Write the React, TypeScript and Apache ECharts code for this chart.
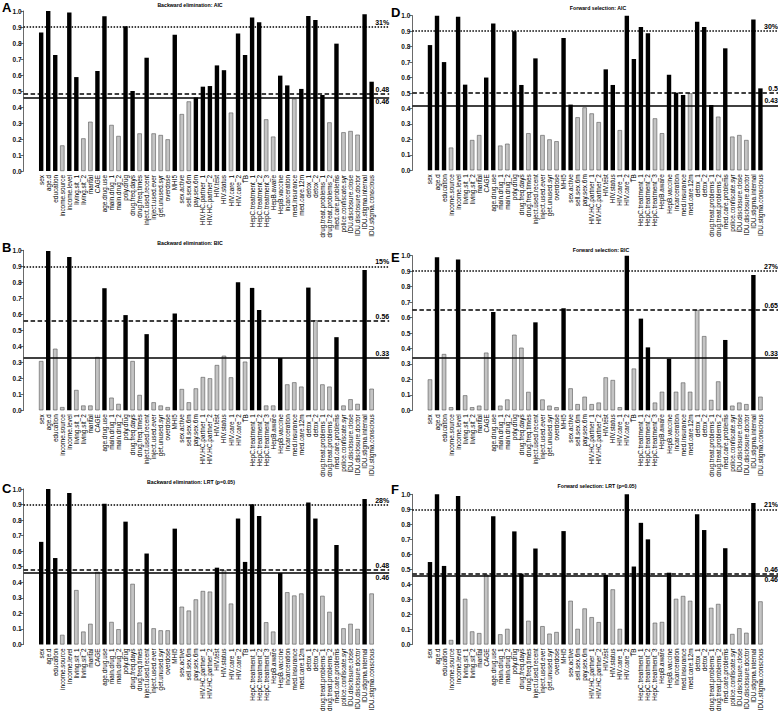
import React, { useEffect, useRef } from 'react';
import * as echarts from 'echarts';

const categories = [
  'sex', 'age.d', 'education', 'income.source', 'income.level', 'living.sit_1', 'living.sit_2', 'marital', 'CAGE',
  'age.drug.use', 'main.drug_1', 'main.drug_2', 'poly.drug', 'drug.freq.days', 'drug.freq.times', 'inject.used.recent',
  'inject.used.ever', 'get.unused.syr', 'overdose', 'MHI5', 'sex.active', 'sell.sex.6m', 'pay.sex.6m',
  'HIV.HC.partner_1', 'HIV.HC.partner_2', 'HIV.test', 'HIV.status', 'HIV.care_1', 'HIV.care_2', 'TB',
  'HepC.treatment_1', 'HepC.treatment_2', 'HepC.treatment_3', 'HepB.aware', 'HepB.vaccine', 'incarceration',
  'med.insurance', 'med.care.12m', 'detox_1', 'detox_2', 'drug.treat.problems_1', 'drug.treat.problems_2',
  'med.care.problems', 'police.confiscate.syr', 'IDU.disclosure.close', 'IDU.disclosure.doctor',
  'IDU.stigma.internal', 'IDU.stigma.conscious',
];

// Panel A: Backward elimination, AIC
const aValues = [0.865, 1.0, 0.725, 0.16, 0.99, 0.587, 0.204, 0.308, 0.625, 0.967, 0.288, 0.219, 0.904, 0.5, 0.235, 0.708,
  0.235, 0.225, 0.198, 0.852, 0.356, 0.435, 0.46, 0.527, 0.531, 0.66, 0.63, 0.365, 0.86, 0.725, 0.96, 0.93, 0.323, 0.215,
  0.596, 0.535, 0.452, 0.513, 0.969, 0.944, 0.475, 0.304, 0.796, 0.242, 0.25, 0.227, 0.98, 0.558];
const aSelected = [1, 1, 1, 0, 1, 1, 0, 0, 1, 1, 0, 0, 1, 1, 0, 1, 0, 0, 0, 1, 0, 0, 1, 1, 1, 1, 1, 0, 1, 1, 1, 1, 0, 0,
  1, 1, 0, 1, 1, 1, 1, 0, 1, 0, 0, 0, 1, 1];
const aThresholds = [0.9, 0.48, 0.46];
const aThresholdLabels = ['31%', '0.48', '0.46'];

// Panel B: Backward elimination, BIC
const bValues = [0.308, 0.995, 0.385, 0.02, 0.958, 0.127, 0.03, 0.03, 0.333, 0.763, 0.079, 0.04, 0.595, 0.308, 0.096, 0.476,
  0.05, 0.03, 0.02, 0.605, 0.133, 0.05, 0.137, 0.208, 0.2, 0.283, 0.341, 0.206, 0.8, 0.304, 0.765, 0.627, 0.03, 0.03,
  0.327, 0.162, 0.175, 0.148, 0.767, 0.563, 0.162, 0.148, 0.457, 0.03, 0.069, 0.04, 0.877, 0.135];
const bSelected = [0, 1, 0, 0, 1, 0, 0, 0, 0, 1, 0, 0, 1, 0, 0, 1, 0, 0, 0, 1, 0, 0, 0, 0, 0, 0, 0, 0, 1, 0, 1, 1, 0, 0,
  1, 0, 0, 0, 1, 0, 0, 0, 1, 0, 0, 0, 1, 0];
const bThresholds = [0.9, 0.565, 0.327];
const bThresholdLabels = ['15%', '0.56', '0.33'];

// Panel C: Backward elimination, LRT (p=0.05)
const cValues = [0.66, 1.0, 0.556, 0.062, 0.975, 0.35, 0.083, 0.133, 0.467, 0.905, 0.145, 0.098, 0.79, 0.39, 0.141, 0.585,
  0.104, 0.091, 0.091, 0.745, 0.243, 0.218, 0.29, 0.344, 0.34, 0.494, 0.477, 0.263, 0.81, 0.531, 0.902, 0.826, 0.143, 0.083,
  0.46, 0.336, 0.315, 0.328, 0.913, 0.81, 0.313, 0.21, 0.64, 0.104, 0.133, 0.1, 0.936, 0.328];
const cSelected = [1, 1, 1, 0, 1, 0, 0, 0, 0, 1, 0, 0, 1, 0, 0, 1, 0, 0, 0, 1, 0, 0, 0, 0, 0, 1, 0, 0, 1, 1, 1, 1, 0, 0,
  1, 0, 0, 0, 1, 1, 0, 0, 1, 0, 0, 0, 1, 0];
const cThresholds = [0.9, 0.478, 0.46];
const cThresholdLabels = ['28%', '0.48', '0.46'];

// Panel D: Forward selection, AIC
const dValues = [0.81, 1.0, 0.7, 0.147, 0.994, 0.554, 0.196, 0.228, 0.6, 0.95, 0.16, 0.172, 0.9, 0.552, 0.24, 0.724,
  0.228, 0.2, 0.188, 0.856, 0.425, 0.343, 0.407, 0.368, 0.312, 0.653, 0.552, 0.26, 1.0, 0.72, 0.927, 0.886, 0.336, 0.24,
  0.618, 0.502, 0.487, 0.498, 0.961, 0.927, 0.422, 0.347, 0.789, 0.218, 0.228, 0.196, 0.976, 0.53];
const dSelected = [1, 1, 1, 0, 1, 1, 0, 0, 1, 1, 0, 0, 1, 1, 0, 1, 0, 0, 0, 1, 1, 0, 0, 0, 0, 1, 1, 0, 1, 1, 1, 1, 0, 0,
  1, 1, 1, 0, 1, 1, 1, 0, 1, 0, 0, 0, 1, 1];
const dThresholds = [0.9, 0.5, 0.425];
const dThresholdLabels = ['30%', '0.5', '0.43'];

// Panel E: Forward selection, BIC
const eValues = [0.2, 0.99, 0.364, 0.02, 0.976, 0.097, 0.02, 0.03, 0.373, 0.636, 0.03, 0.07, 0.489, 0.405, 0.119, 0.569,
  0.07, 0.03, 0.02, 0.66, 0.142, 0.04, 0.088, 0.04, 0.05, 0.213, 0.196, 0.02, 1.0, 0.27, 0.593, 0.407, 0.05, 0.12,
  0.334, 0.12, 0.18, 0.12, 0.649, 0.48, 0.067, 0.187, 0.455, 0.03, 0.05, 0.04, 0.875, 0.088];
const eSelected = [0, 1, 0, 0, 1, 0, 0, 0, 0, 1, 0, 0, 0, 0, 0, 1, 0, 0, 0, 1, 0, 0, 0, 0, 0, 0, 0, 0, 1, 0, 1, 1, 0, 0,
  1, 0, 0, 0, 0, 0, 0, 0, 1, 0, 0, 0, 1, 0];
const eThresholds = [0.9, 0.65, 0.335];
const eThresholdLabels = ['27%', '0.65', '0.33'];

// Panel F: Forward selection, LRT (p=0.05)
const fValues = [0.549, 1.0, 0.523, 0.03, 0.989, 0.304, 0.087, 0.076, 0.466, 0.854, 0.068, 0.104, 0.753, 0.472, 0.158, 0.639,
  0.122, 0.072, 0.083, 0.755, 0.291, 0.104, 0.24, 0.182, 0.149, 0.464, 0.367, 0.104, 1.0, 0.519, 0.81, 0.7, 0.145, 0.15,
  0.478, 0.304, 0.323, 0.291, 0.867, 0.762, 0.244, 0.27, 0.641, 0.07, 0.108, 0.078, 0.942, 0.287];
const fSelected = [1, 1, 1, 0, 1, 0, 0, 0, 0, 1, 0, 0, 1, 1, 0, 1, 0, 0, 0, 1, 0, 0, 0, 0, 0, 1, 0, 0, 1, 1, 1, 1, 0, 0,
  1, 0, 0, 0, 1, 1, 0, 0, 1, 0, 0, 0, 1, 0];
const fThresholds = [0.9, 0.466, 0.457];
const fThresholdLabels = ['21%', '0.46', '0.46'];

const FONT = '"Liberation Sans", Arial, sans-serif';

const panels = [
  { letter: 'A', title: 'Backward elimination: AIC', values: aValues, selected: aSelected, thr: aThresholds, thrLabels: aThresholdLabels,
    labelSide: ['top', 'top', 'bottom'], left: 23.6, top: 11, height: 160, titleX: 190, titleY: 4.5, letterX: 2, letterY: 1 },
  { letter: 'B', title: 'Backward elimination: BIC', values: bValues, selected: bSelected, thr: bThresholds, thrLabels: bThresholdLabels,
    labelSide: ['top', 'top', 'top'], left: 23.6, top: 250.3, height: 160, titleX: 190, titleY: 242.5, letterX: 2, letterY: 241 },
  { letter: 'C', title: 'Backward elimination: LRT (p=0.05)', values: cValues, selected: cSelected, thr: cThresholds, thrLabels: cThresholdLabels,
    labelSide: ['top', 'top', 'bottom'], left: 23.6, top: 489, height: 160.3, titleX: 191, titleY: 481.5, letterX: 2, letterY: 482 },
  { letter: 'D', title: 'Forward selection: AIC', values: dValues, selected: dSelected, thr: dThresholds, thrLabels: dThresholdLabels,
    labelSide: ['top', 'top', 'top'], left: 412.4, top: 15.7, height: 154.6, titleX: 598, titleY: 8, letterX: 391, letterY: 6 },
  { letter: 'E', title: 'Forward selection: BIC', values: eValues, selected: eSelected, thr: eThresholds, thrLabels: eThresholdLabels,
    labelSide: ['top', 'top', 'top'], left: 412.4, top: 255.7, height: 154.6, titleX: 601, titleY: 250, letterX: 391, letterY: 251 },
  { letter: 'F', title: 'Forward selection: LRT (p=0.05)', values: fValues, selected: fSelected, thr: fThresholds, thrLabels: fThresholdLabels,
    labelSide: ['top', 'top', 'bottom'], left: 412.4, top: 494.3, height: 155.2, titleX: 597, titleY: 486, letterX: 391, letterY: 483 },
];

const GRID_W = 365.6;
const padCats = [' ', '  ', ...categories, '   ', '    '];
const lineTypes: any[] = [[1.5, 1.5], [4.5, 2.5], 'solid'];

export default function App() {
  const ref = useRef<HTMLDivElement>(null);
  useEffect(() => {
    if (!ref.current) return;
    const chart = echarts.init(ref.current, null, { renderer: 'svg' });
    const grid: any[] = [];
    const xAxis: any[] = [];
    const yAxis: any[] = [];
    const series: any[] = [];
    const graphic: any[] = [];
    panels.forEach((p, i) => {
      grid.push({ left: p.left, top: p.top, width: GRID_W, height: p.height, containLabel: false });
      xAxis.push({
        type: 'category', gridIndex: i, data: padCats,
        axisLine: { show: false }, axisTick: { show: false },
        axisLabel: { interval: 0, rotate: 90, fontSize: 6.4, color: '#000', margin: 4, fontFamily: FONT },
      });
      yAxis.push({
        type: 'value', gridIndex: i, min: 0, max: 1, interval: 0.1,
        splitLine: { show: false },
        axisLine: { show: true, lineStyle: { color: '#444', width: 0.8 } },
        axisTick: { show: true, length: 3, lineStyle: { color: '#444', width: 0.8 } },
        axisLabel: { fontSize: 6.5, fontWeight: 'bold', color: '#111', margin: 2, fontFamily: FONT,
          formatter: (v: number) => v.toFixed(1) },
      });
      const data: any[] = ['-', '-'];
      p.values.forEach((v, k) => {
        const sel = p.selected[k] === 1;
        data.push({ value: v, itemStyle: { color: sel ? '#000' : '#c4c4c4', borderColor: sel ? '#000' : '#555', borderWidth: sel ? 0 : 0.6 } });
      });
      data.push('-', '-');
      series.push({
        type: 'bar', xAxisIndex: i, yAxisIndex: i, data, barWidth: 4.4, silent: true,
        markLine: {
          silent: true, symbol: ['none', 'none'], animation: false,
          data: p.thr.map((t, k) => ({
            yAxis: t,
            lineStyle: { color: '#000', width: 1.5, type: lineTypes[k] },
            label: { show: true, position: p.labelSide[k] === 'top' ? 'insideEndTop' : 'insideEndBottom', formatter: p.thrLabels[k],
              fontSize: 7, fontWeight: 'bold', color: '#000', fontFamily: FONT, distance: [0, 1] },
          })),
        },
      });
      graphic.push({ type: 'text', x: p.letterX, y: p.letterY, style: { text: p.letter, fontSize: 13, fontWeight: 'bold', fill: '#000',
        fontFamily: FONT, textAlign: 'left', textVerticalAlign: 'top', align: 'left', verticalAlign: 'top' } });
      graphic.push({ type: 'text', x: p.titleX, y: p.titleY, style: { text: p.title, fontSize: 5.2, fontWeight: 'bold', fill: '#000',
        fontFamily: FONT, textAlign: 'center', textVerticalAlign: 'middle', align: 'center', verticalAlign: 'middle' } });
    });
    chart.setOption({ animation: false, backgroundColor: '#fff', grid, xAxis, yAxis, series, graphic });
    return () => chart.dispose();
  }, []);
  return <div ref={ref} style={{ position: 'fixed', left: 0, top: 0, width: 778, height: 714, background: '#fff' }} />;
}
